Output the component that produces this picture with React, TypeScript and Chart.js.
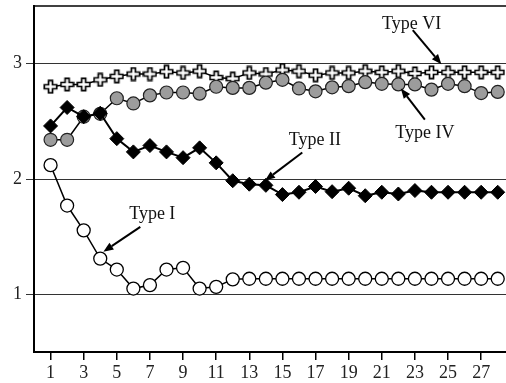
import React, { useEffect, useRef } from "react";
import { Chart, registerables } from "chart.js";

Chart.register(...registerables);

const xValues = [1, 2, 3, 4, 5, 6, 7, 8, 9, 10, 11, 12, 13, 14, 15, 16, 17, 18, 19, 20, 21, 22, 23, 24, 25, 26, 27, 28];
const xTicks = [1, 3, 5, 7, 9, 11, 13, 15, 17, 19, 21, 23, 25, 27];
const yTicks = [1, 2, 3];

const typeI = [2.12, 1.77, 1.555, 1.31, 1.215, 1.05, 1.08, 1.215, 1.23, 1.05, 1.065, 1.13, 1.135, 1.135, 1.135, 1.135, 1.135, 1.135, 1.135, 1.135, 1.135, 1.135, 1.135, 1.135, 1.135, 1.135, 1.135, 1.135];
const typeII = [2.46, 2.62, 2.54, 2.57, 2.35, 2.235, 2.29, 2.235, 2.185, 2.27, 2.14, 1.985, 1.955, 1.945, 1.865, 1.885, 1.935, 1.89, 1.92, 1.855, 1.885, 1.87, 1.9, 1.885, 1.885, 1.885, 1.885, 1.885];
const typeIV = [2.34, 2.34, 2.54, 2.565, 2.7, 2.655, 2.725, 2.75, 2.75, 2.74, 2.8, 2.79, 2.79, 2.835, 2.86, 2.785, 2.76, 2.795, 2.805, 2.84, 2.825, 2.82, 2.82, 2.775, 2.825, 2.805, 2.745, 2.755];
const typeVI = [2.8, 2.82, 2.82, 2.86, 2.89, 2.91, 2.91, 2.93, 2.92, 2.935, 2.88, 2.87, 2.92, 2.91, 2.945, 2.935, 2.9, 2.92, 2.92, 2.935, 2.925, 2.935, 2.915, 2.925, 2.925, 2.925, 2.925, 2.925];

// label text, label position, arrow start, arrow end (data units)
const labels = [
  { text: "Type VI", x: 22.8, y: 3.34, ax: 22.87, ay: 3.29, bx: 24.6, by: 2.995 },
  { text: "Type IV", x: 23.6, y: 2.4, ax: 23.6, ay: 2.515, bx: 22.15, by: 2.785 },
  { text: "Type II", x: 16.96, y: 2.34, ax: 16.2, ay: 2.23, bx: 13.95, by: 1.986 },
  { text: "Type I", x: 7.14, y: 1.69, ax: 6.42, ay: 1.585, bx: 4.19, by: 1.37 },
];

const FONT = '"Liberation Serif", "Times New Roman", serif';

function makePlus(): HTMLCanvasElement {
  const c = document.createElement("canvas");
  const s = 15;
  c.width = s;
  c.height = s;
  const g = c.getContext("2d")!;
  const a = 1.3, b = 5.5, d = 9.5, e = 13.7;
  g.beginPath();
  g.moveTo(b, a);
  g.lineTo(d, a);
  g.lineTo(d, b);
  g.lineTo(e, b);
  g.lineTo(e, d);
  g.lineTo(d, d);
  g.lineTo(d, e);
  g.lineTo(b, e);
  g.lineTo(b, d);
  g.lineTo(a, d);
  g.lineTo(a, b);
  g.lineTo(b, b);
  g.closePath();
  g.fillStyle = "#ffffff";
  g.fill();
  g.lineWidth = 1.7;
  g.strokeStyle = "#000000";
  g.stroke();
  return c;
}

const annotationPlugin = {
  id: "annot",
  afterDatasetsDraw(chart: any) {
    const { ctx, scales, chartArea } = chart;
    const xs = scales.x, ys = scales.y;
    ctx.save();
    ctx.strokeStyle = "#000";
    ctx.lineWidth = 1.5;
    ctx.beginPath();
    ctx.moveTo(chartArea.left, chartArea.top);
    ctx.lineTo(chartArea.right, chartArea.top);
    ctx.stroke();
    ctx.font = `18px ${FONT}`;
    ctx.textAlign = "center";
    ctx.textBaseline = "middle";
    for (const l of labels) {
      ctx.fillStyle = "#111";
      ctx.fillText(l.text, xs.getPixelForValue(l.x), ys.getPixelForValue(l.y));
      const x1 = xs.getPixelForValue(l.ax), y1 = ys.getPixelForValue(l.ay);
      const x2 = xs.getPixelForValue(l.bx), y2 = ys.getPixelForValue(l.by);
      const ang = Math.atan2(y2 - y1, x2 - x1);
      const hl = 10, hw = 4;
      const bxp = x2 - hl * Math.cos(ang), byp = y2 - hl * Math.sin(ang);
      ctx.strokeStyle = "#000";
      ctx.lineWidth = 2;
      ctx.beginPath();
      ctx.moveTo(x1, y1);
      ctx.lineTo(bxp, byp);
      ctx.stroke();
      ctx.fillStyle = "#000";
      ctx.beginPath();
      ctx.moveTo(x2, y2);
      ctx.lineTo(bxp + hw * Math.sin(ang), byp - hw * Math.cos(ang));
      ctx.lineTo(bxp - hw * Math.sin(ang), byp + hw * Math.cos(ang));
      ctx.closePath();
      ctx.fill();
    }
    ctx.restore();
  },
};

export default function App() {
  const ref = useRef<HTMLCanvasElement | null>(null);
  useEffect(() => {
    document.body.style.margin = "0";
    const plus = makePlus();
    const mk = (arr: number[]) => arr.map((v, i) => ({ x: xValues[i], y: v }));
    const chart = new Chart(ref.current!, {
      type: "line",
      data: {
        datasets: [
          {
            label: "Type II",
            data: mk(typeII),
            borderColor: "#000",
            borderWidth: 2,
            pointStyle: "rectRot",
            pointRadius: 7,
            pointBackgroundColor: "#000",
            pointBorderColor: "#000",
            pointBorderWidth: 1,
          },
          {
            label: "Type IV",
            data: mk(typeIV),
            borderColor: "#000",
            borderWidth: 1.5,
            pointStyle: "circle",
            pointRadius: 6.5,
            pointBackgroundColor: "#9c9c9c",
            pointBorderColor: "#222",
            pointBorderWidth: 1.2,
          },
          {
            label: "Type VI",
            data: mk(typeVI),
            borderColor: "#000",
            borderWidth: 1.5,
            pointStyle: plus as any,
            pointRadius: 7,
            pointBackgroundColor: "#fff",
            pointBorderColor: "#000",
          },
          {
            label: "Type I",
            data: mk(typeI),
            borderColor: "#000",
            borderWidth: 1.5,
            pointStyle: "circle",
            pointRadius: 6.5,
            pointBackgroundColor: "#fff",
            pointBorderColor: "#000",
            pointBorderWidth: 1.3,
          },
        ],
      },
      options: {
        animation: false,
        responsive: false,
        maintainAspectRatio: false,
        layout: { autoPadding: false, padding: { top: 6, right: 0, left: 0, bottom: 0 } },
        plugins: { legend: { display: false }, tooltip: { enabled: false } },
        elements: { line: { tension: 0 } },
        scales: {
          x: {
            type: "linear",
            min: 0,
            max: 28.5,
            afterBuildTicks: (s: any) => {
              s.ticks = xTicks.map((v) => ({ value: v }));
            },
            afterFit: (s: any) => {
              s.height = 31;
              s.paddingLeft = 0;
              s.paddingRight = 0;
            },
            grid: { drawOnChartArea: false, drawTicks: true, tickLength: 8, color: "#000", lineWidth: 1.5 },
            border: { display: true, color: "#000", width: 2 },
            ticks: { font: { family: FONT, size: 18 }, color: "#222", padding: 2, maxRotation: 0, autoSkip: false },
          },
          y: {
            type: "linear",
            min: 0.5,
            max: 3.5,
            afterBuildTicks: (s: any) => {
              s.ticks = yTicks.map((v) => ({ value: v }));
            },
            afterFit: (s: any) => {
              s.width = 34;
              s.paddingTop = 0;
              s.paddingBottom = 0;
            },
            grid: { drawOnChartArea: true, drawTicks: true, tickLength: 8, color: "#333", lineWidth: 1 },
            border: { display: true, color: "#000", width: 2 },
            ticks: { font: { family: FONT, size: 18 }, color: "#222", padding: 4 },
          },
        },
      },
      plugins: [annotationPlugin],
    });
    return () => chart.destroy();
  }, []);
  return (
    <div style={{ width: 506, height: 383, position: "relative", background: "#fff" }}>
      <canvas ref={ref} width={506} height={383} style={{ width: 506, height: 383, display: "block" }} />
    </div>
  );
}
